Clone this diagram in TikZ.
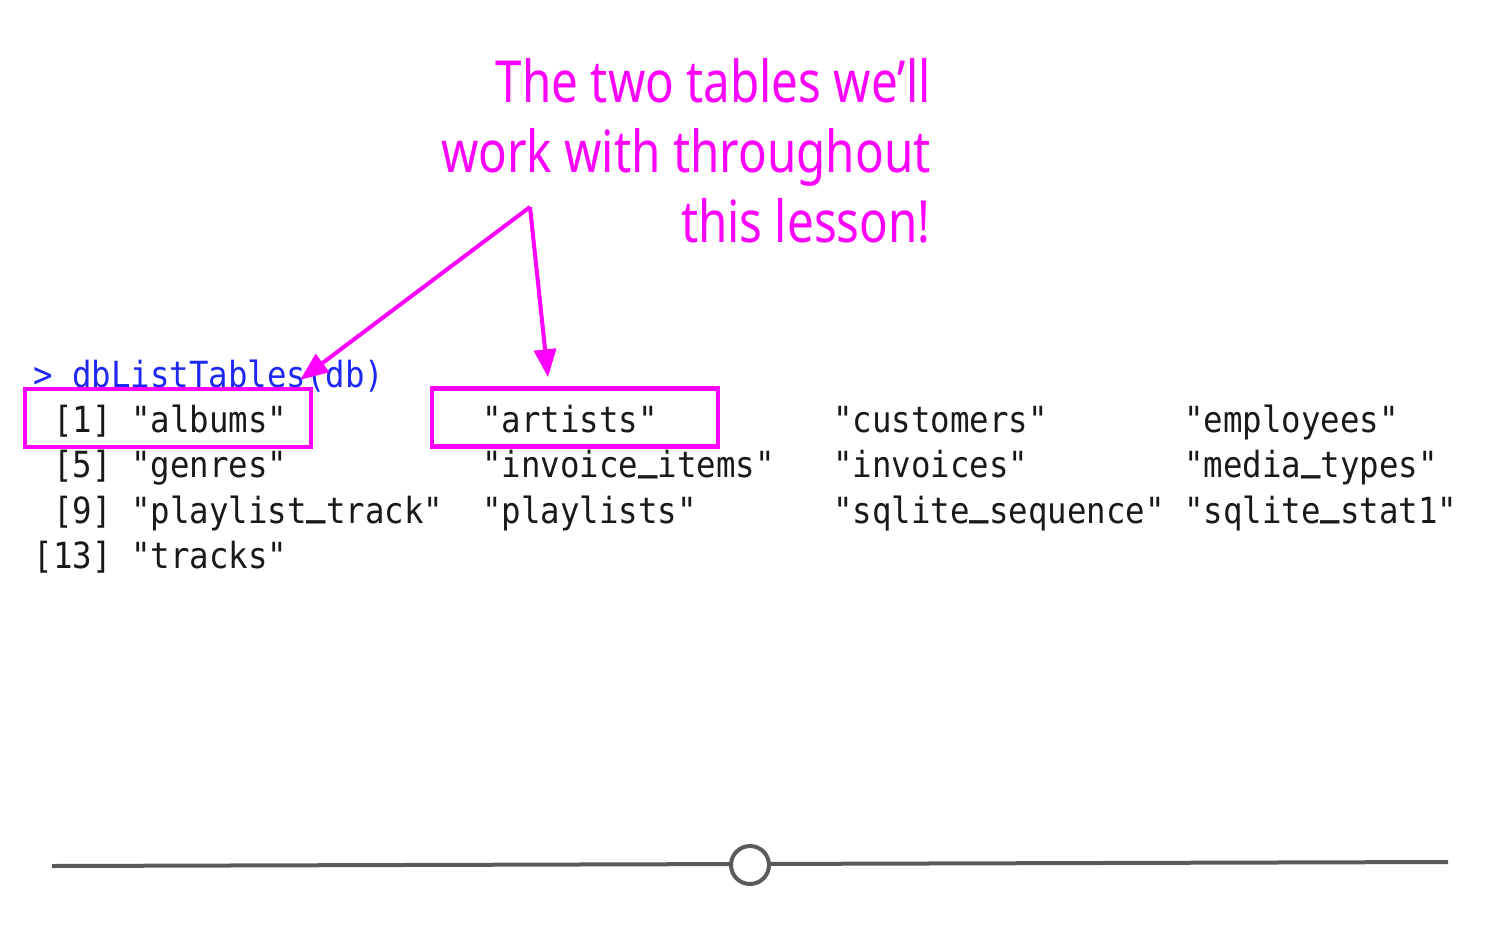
\documentclass[tikz,border=0pt]{standalone}
\usepackage{fontspec}
\usetikzlibrary{arrows.meta}
\newfontfamily\annfont[FakeStretch=0.82]{Noto Sans}
\newfontfamily\monofont[FakeStretch=0.9]{DejaVu Sans Mono}
\newcommand\us{\raisebox{3.6pt}{\bfseries\_}}
\definecolor{mag}{RGB}{255,0,255}
\definecolor{promptblue}{RGB}{30,40,245}
\definecolor{code}{RGB}{25,25,25}
\definecolor{slider}{RGB}{90,90,90}
\tikzset{
  ann/.style={font=\annfont\fontsize{29}{35}\selectfont, text=mag, anchor=base east, inner sep=0pt},
  cell/.style={font=\monofont\fontsize{18}{22}\selectfont, text=code, anchor=base west, inner sep=0pt},
  prompt/.style={cell, text=promptblue},
  hbox/.style={draw=mag, line width=2.2pt, minimum width=143pt, minimum height=29pt, inner sep=0pt},
  arr/.style={draw=mag, line width=2pt, -{Triangle[length=14pt,width=11pt]}},
}
\begin{document}
\begin{tikzpicture}[x=0.5pt,y=-0.5pt]
\useasboundingbox (0,0) rectangle (1500,938);
% annotation
\node[ann] (a1) at (931,102) {The two tables we’ll};
\node[ann] (a2) at (931,172) {work with throughout};
\node[ann] (a3) at (931,242) {this lesson!};
% prompt
\node[prompt] (p) at (33,387) {> dbListTables(db)};
% rows
\node[cell] (i1) at (53,432) {[1]};
\node[cell] (c11) at (131,432) {"albums"};
\node[cell] (c12) at (482,432) {"artists"};
\node[cell] (c13) at (833,432) {"customers"};
\node[cell] (c14) at (1184,432) {"employees"};
\node[cell] (i5) at (53,477.5) {[5]};
\node[cell] (c21) at (131,477.5) {"genres"};
\node[cell] (c22) at (482,477.5) {"invoice\us items"};
\node[cell] (c23) at (833,477.5) {"invoices"};
\node[cell] (c24) at (1184,477.5) {"media\us types"};
\node[cell] (i9) at (53,523) {[9]};
\node[cell] (c31) at (131,523) {"playlist\us track"};
\node[cell] (c32) at (482,523) {"playlists"};
\node[cell] (c33) at (833,523) {"sqlite\us sequence"};
\node[cell] (c34) at (1184,523) {"sqlite\us stat1"};
\node[cell] (i13) at (33.5,568) {[13]};
\node[cell] (c41) at (131,568) {"tracks"};
% highlight boxes
\node[hbox] (albbox) at (168,418) {};
\node[hbox] (artbox) at (575,417.5) {};
% arrows
\coordinate (src) at (530,207);
\draw[arr] (src) -- ([shift={(-13,-7)}]albbox.north east);
\draw[arr] (src) -- ([shift={(-27,-9)}]artbox.north);
% slider
\coordinate (l1) at (52,866);
\coordinate (l2) at (1448,862);
\draw[slider, line width=2pt] (l1) -- (l2);
\node[circle, draw=slider, fill=white, line width=2pt, minimum size=19pt, inner sep=0pt] (knob) at (750,865) {};
\end{tikzpicture}
\end{document}
